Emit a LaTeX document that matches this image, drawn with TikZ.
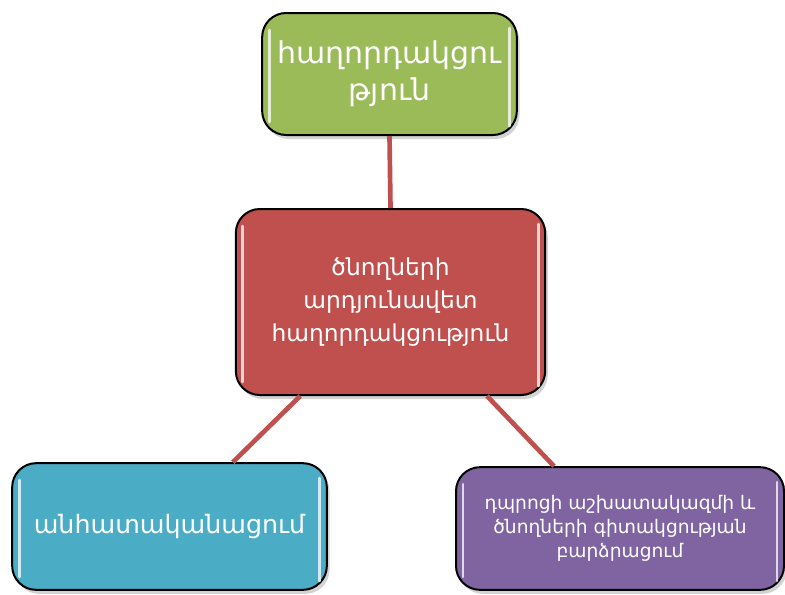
\documentclass[tikz,border=0pt]{standalone}
\usepackage{fontspec}
\newfontfamily\armfont{DejaVu Sans}
\usetikzlibrary{calc,shadows}
\definecolor{boxgreen}{HTML}{9BBB59}
\definecolor{boxred}{HTML}{C0504D}
\definecolor{boxblue}{HTML}{4BACC6}
\definecolor{boxpurple}{HTML}{8064A2}
\definecolor{linkred}{HTML}{C0504D}
\tikzset{
  topic/.style={draw=black, line width=1.5pt, rounded corners=18pt, inner sep=0pt,
    text=white, align=center, font=\armfont,
    drop shadow={opacity=0.35, shadow xshift=2pt, shadow yshift=-3pt}},
  gloss/.style={line width=2.2pt, line cap=round},
  link/.style={draw=linkred, line width=3.5pt},
}
\begin{document}
\begin{tikzpicture}[x=0.75pt, y=-0.75pt]
		%%%%% START %%%%%
		\useasboundingbox (0,0) rectangle (785,594);
		
		\coordinate (ct) at (389.5,74);
		\coordinate (cc) at (390.5,302);
		\coordinate (cl) at (169.5,526.5);
		\coordinate (cr) at (620,528.5);
		
		\node[topic, fill=boxgreen, minimum width=191pt, minimum height=91.5pt,
		      font=\armfont\fontsize{22.5}{28}\selectfont] (green) at (ct)
		      {հաղորդակցու\\թյուն};
		\node[topic, fill=boxred, minimum width=232pt, minimum height=139.5pt,
		      font=\armfont\fontsize{17.5}{25}\selectfont] (red) at (cc)
		      {ծնողների\\արդյունավետ\\հաղորդակցություն};
		\node[topic, fill=boxblue, minimum width=236pt, minimum height=95pt,
		      font=\armfont\fontsize{19}{24}\selectfont] (blue) at (cl)
		      {անհատականացում};
		\node[topic, fill=boxpurple, minimum width=246pt, minimum height=92pt,
		      font=\armfont\fontsize{14}{18}\selectfont] (purple) at (cr)
		      {դպրոցի աշխատակազմի և\\ծնողների գիտակցության\\բարձրացում};
		
		% links
		\draw[link] (green.south) -- (red.north);
		\draw[link] ($(red.south west)!0.21!(red.south east)$) -- ($(blue.north west)!0.70!(blue.north east)$);
		\draw[link] ($(red.south west)!0.81!(red.south east)$) -- ($(purple.north west)!0.30!(purple.north east)$);
		
		% glossy edges
		\foreach \b/\c in {green/boxgreen, red/boxred, blue/boxblue, purple/boxpurple}{
		  \draw[gloss, draw=white!75!\c] ($(\b.north west)+(8,18)$) -- ($(\b.south west)+(8,-14)$);
		  \draw[gloss, draw=white!75!\c] ($(\b.north east)+(-8,16)$) -- ($(\b.south east)+(-8,-10)$);
		}
		
		%%%%% END %%%%%
\end{tikzpicture}
\end{document}
